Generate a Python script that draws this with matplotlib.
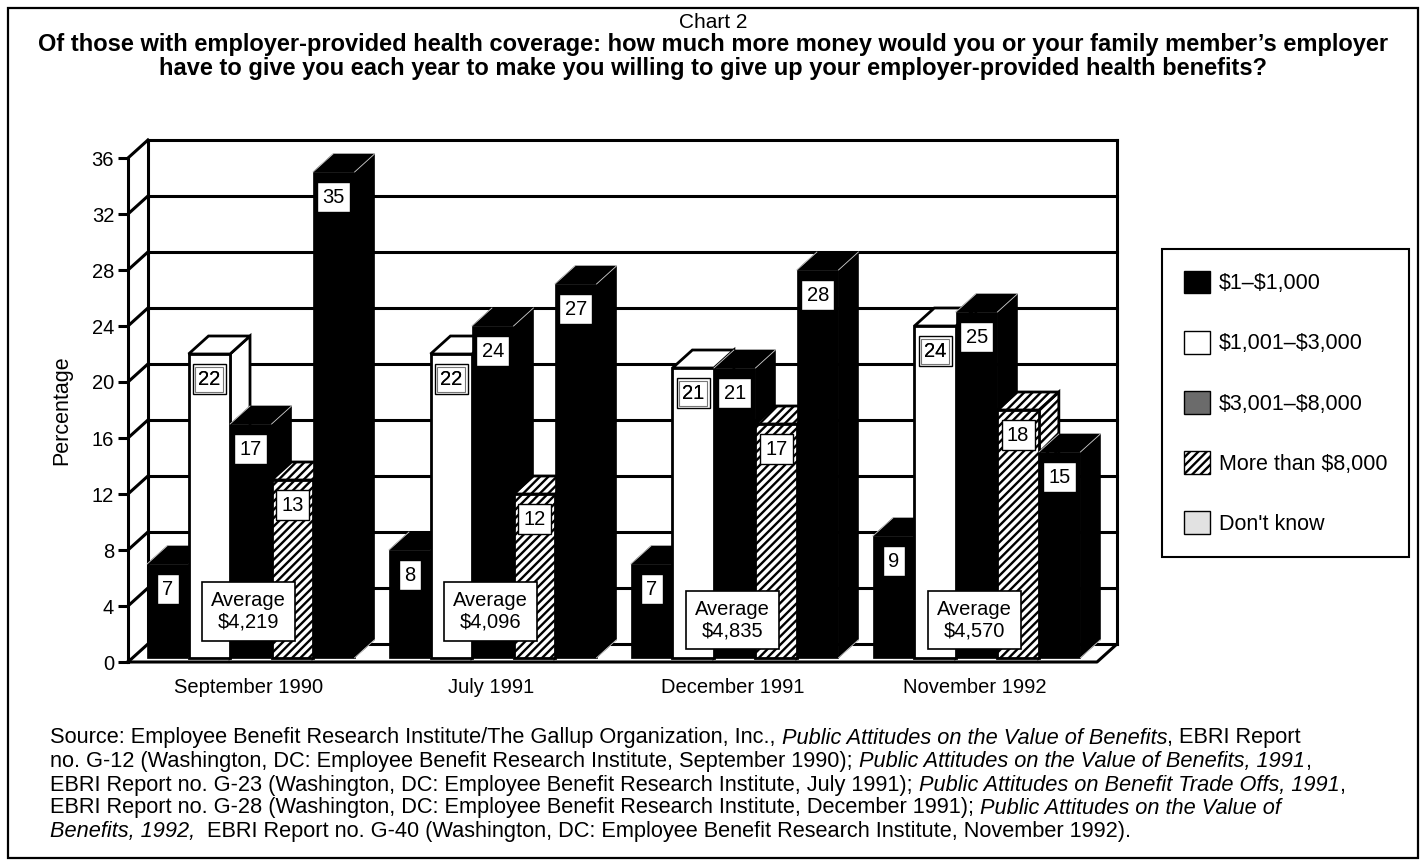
import matplotlib
matplotlib.use("Agg")
import matplotlib.pyplot as plt
from matplotlib.patches import Polygon, Rectangle, Patch

plt.rcParams['font.family'] = ['Liberation Sans', 'DejaVu Sans']
plt.rcParams['text.parse_math'] = False
plt.rcParams['hatch.linewidth'] = 1.7

# survey dates along the x axis
surveys = ['September 1990', 'July 1991', 'December 1991', 'November 1992']
ranges = ['$1–$1,000', '$1,001–$3,000', '$3,001–$8,000', 'More than $8,000', "Don't know"]

# percent answering each range, one value per survey
one_to_1000 = [7, 8, 7, 9]
from_1001_to_3000 = [22, 22, 21, 24]
from_3001_to_8000 = [17, 24, 21, 25]
over_8000 = [13, 12, 17, 18]
dont_know = [35, 27, 28, 15]

averages = ['$4,219', '$4,096', '$4,835', '$4,570']
y_ticks = [0, 4, 8, 12, 16, 20, 24, 28, 32, 36]

series = [one_to_1000, from_1001_to_3000, from_3001_to_8000, over_8000, dont_know]
bar_style = ['black', 'white', 'black', 'hatch', 'black']
legend_fill = ['black', 'white', '#6b6b6b', 'white', '#e2e2e2']
legend_hatch = [None, None, None, '////', None]

# geometry of the fake 3d box (x in bar widths, y in percent)
W = 1.0
PITCH = 5.83
X0 = 0.46
DX = 0.48
DY = 18 / 14
FLOOR_END = 23.35
BAR_BOTTOM = 0.3
avg_y = [3.6, 3.6, 3.0, 3.0]

fig = plt.figure(figsize=(14.26, 8.65), dpi=100)
ax = fig.add_axes([128 / 1426, 203 / 865, 996 / 1426, 525 / 865])
ax.set_xlim(0, 24)
ax.set_ylim(0, 37.5)

# front axis
for side in ['top', 'right', 'bottom']:
    ax.spines[side].set_visible(False)
ax.spines['left'].set_bounds(0, 36)
ax.spines['left'].set_linewidth(2.2)
ax.set_xticks([])
ax.set_yticks(y_ticks)
ax.tick_params(axis='y', length=7, width=2.2, pad=3, labelsize=14.5)

# back wall, floor and gridlines
lw = 2.2
for v in y_ticks:
    ax.plot([0, DX], [v, v + DY], color='black', lw=lw, zorder=1, clip_on=False)
    ax.plot([DX, FLOOR_END + DX], [v + DY, v + DY], color='black', lw=lw, zorder=1,
            clip_on=False, solid_capstyle='projecting')
ax.plot([DX, DX], [DY, 36 + DY], color='black', lw=lw, zorder=1, clip_on=False)
ax.plot([FLOOR_END + DX] * 2, [DY, 36 + DY], color='black', lw=lw, zorder=1, clip_on=False)
ax.plot([0, FLOOR_END, FLOOR_END + DX], [0, 0, DY], color='black', lw=lw, zorder=1,
        clip_on=False)


def draw_bar(x, v, style, z):
    front = Rectangle((x, BAR_BOTTOM), W, v - BAR_BOTTOM)
    top = Polygon([(x, v), (x + W, v), (x + W + DX, v + DY), (x + DX, v + DY)])
    side = Polygon([(x + W, BAR_BOTTOM), (x + W, v), (x + W + DX, v + DY),
                    (x + W + DX, BAR_BOTTOM + DY)])
    for p in [side, top, front]:
        p.set_zorder(z)
        p.set_clip_on(False)
        if style == 'black':
            p.set_facecolor('black')
            p.set_edgecolor('black')
            p.set_linewidth(0.5)
        else:
            p.set_facecolor('white')
            p.set_edgecolor('black')
            p.set_linewidth(2)
            if style == 'hatch':
                p.set_hatch('////')
        ax.add_patch(p)
    if style == 'black':
        # thin light edges where the faces meet
        for (xa, ya) in [(x + W, v), (x, v), (x + W, BAR_BOTTOM)]:
            ax.plot([xa, xa + DX], [ya, ya + DY], color='#d0d0d0', lw=0.6,
                    zorder=z + 0.01, clip_on=False)


for g in range(len(surveys)):
    gx = X0 + g * PITCH
    for s, vals in enumerate(series):
        x = gx + s * W
        v = vals[g]
        draw_bar(x, v, bar_style[s], 3 + s * 0.1)
        ax.text(x + W / 2, v - 1.8, str(v), ha='center', va='center', fontsize=14.5,
                zorder=10, bbox=dict(boxstyle='square,pad=0.27', fc='white', ec='black', lw=1))
        if bar_style[s] == 'white':
            ax.text(x + W / 2, v - 1.8, str(v), ha='center', va='center', fontsize=14.5,
                    zorder=10.5, bbox=dict(boxstyle='square,pad=0.14', fc='none',
                                           ec='#777777', lw=0.8))
    ax.text(gx + 2.45, avg_y[g], 'Average\n' + averages[g], ha='center', va='center',
            fontsize=14.5, linespacing=1.15, zorder=12,
            bbox=dict(boxstyle='square,pad=0.45', fc='white', ec='black', lw=1.2))
    ax.text(gx + 2.45, -1.8, surveys[g], ha='center', va='center', fontsize=14.5)

fig.text(62 / 1426, 1 - 410 / 865, 'Percentage', rotation=90, ha='center', va='center',
         fontsize=15.5)

handles = [Patch(facecolor=legend_fill[i], edgecolor='black', hatch=legend_hatch[i], lw=1)
           for i in range(len(ranges))]
leg = fig.legend(handles, ranges, loc='upper left',
                 bbox_to_anchor=(1162 / 1426, 1 - 249 / 865), frameon=True, fancybox=False,
                 edgecolor='black', fontsize=15.5, handlelength=1.25, handleheight=1.25,
                 labelspacing=1.7, handletextpad=0.4, borderpad=1.0, borderaxespad=0)
leg.get_frame().set_linewidth(1.5)
leg.get_frame().set_alpha(None)

# titles
fig.text(0.5, 1 - 22 / 865, 'Chart 2', ha='center', va='center', fontsize=15)
fig.text(0.5, 1 - 44 / 865,
         'Of those with employer-provided health coverage: how much more money would you '
         'or your family member\u2019s employer', ha='center', va='center', fontsize=17,
         weight='bold')
fig.text(0.5, 1 - 68 / 865,
         'have to give you each year to make you willing to give up your employer-provided '
         'health benefits?', ha='center', va='center', fontsize=17, weight='bold')

# source note, regular and italic pieces chained along each line
source_lines = [
    [('Source: Employee Benefit Research Institute/The Gallup Organization, Inc.,', False),
     (' Public Attitudes on the Value of Benefits', True),
     (', EBRI Report', False)],
    [('no. G-12 (Washington, DC: Employee Benefit Research Institute, September 1990);', False),
     (' Public Attitudes on the Value of Benefits, 1991', True),
     (',', False)],
    [('EBRI Report no. G-23 (Washington, DC: Employee Benefit Research Institute, July 1991);', False),
     (' Public Attitudes on Benefit Trade Offs, 1991', True),
     (',', False)],
    [('EBRI Report no. G-28 (Washington, DC: Employee Benefit Research Institute, December 1991);', False),
     (' Public Attitudes on the Value of', True)],
    [('Benefits, 1992,', True),
     ('  EBRI Report no. G-40 (Washington, DC: Employee Benefit Research Institute, November 1992).', False)],
]
line_y = [738, 761, 785, 808, 831]
for yy, parts in zip(line_y, source_lines):
    txt, ital = parts[0]
    last = fig.text(50 / 1426, 1 - yy / 865, txt, ha='left', va='center', fontsize=15.7,
                    style='italic' if ital else 'normal')
    for txt, ital in parts[1:]:
        last = ax.annotate(txt, xy=(1, 0), xycoords=last, ha='left', va='bottom',
                           fontsize=15.7, style='italic' if ital else 'normal',
                           annotation_clip=False)

# outer frame
fig.add_artist(Rectangle((8 / 1426, 7 / 865), 1410 / 1426, 850 / 865,
                         transform=fig.transFigure, fill=False, ec='black', lw=1.6))

fig.savefig('out.png', dpi=100)
